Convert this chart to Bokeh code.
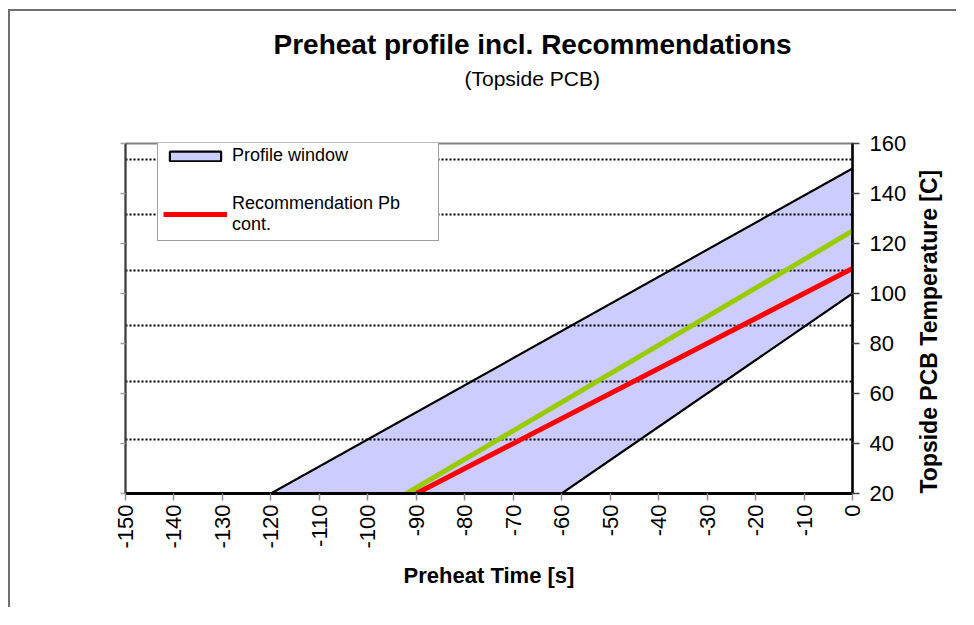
import math
from bokeh.plotting import figure
from bokeh.models import (LinearAxis, FixedTicker, Legend, LegendItem, Title, Range1d)
from bokeh.embed import file_html
from bokeh.resources import INLINE

# ---- data ----
x_ticks = [-150, -140, -130, -120, -110, -100, -90, -80, -70, -60, -50, -40, -30, -20, -10, 0]
x_tick_labels = ["-150", "-140", "-130", "-120", "-110", "-100", "-90", "-80", "-70", "-60",
                 "-50", "-40", "-30", "-20", "-10", "0"]
y_ticks = [20, 40, 60, 80, 100, 120, 140, 160]
grid_levels = [41.6, 64.8, 87.2, 109.2, 131.6, 153.6]

window_x = [-120, 0, 0, -60]
window_y = [20, 150, 100, 20]

pb_x = [-90, 0]
pb_y = [20, 110]

green_x = [-92, 0]
green_y = [20, 125]

title_text = "Preheat profile incl. Recommendations"
subtitle_text = "(Topside PCB)"
x_label = "Preheat Time [s]"
y_label = "Topside PCB Temperature [C]"

FONT = "Liberation Sans"

p = figure(width=948, height=598, output_backend="svg", toolbar_location=None,
           x_range=Range1d(-150, 0), y_range=Range1d(20, 160),
           y_axis_location="right", title=None,
           min_border_left=115, min_border_right=105, min_border_top=132, min_border_bottom=116)
p.styles = {"margin-left": "8px", "margin-top": "9px",
            "border-top": "2px solid #707070", "border-left": "2px solid #707070"}

p.background_fill_color = "white"
p.border_fill_color = "white"
p.outline_line_color = "#808080"
p.outline_line_width = 2

p.xgrid.visible = False
p.ygrid.visible = False

win = p.patch(window_x, window_y, fill_color="#ccccff", line_color="black", line_width=2.2)
p.hspan(y=grid_levels, line_color="black", line_width=2, line_dash="2 2")
green = p.line(green_x, green_y, line_color="#99cc00", line_width=5)
pb = p.line(pb_x, pb_y, line_color="#ff0000", line_width=5)

# x axis
xa = p.xaxis[0]
xa.ticker = FixedTicker(ticks=x_ticks)
xa.major_label_overrides = {t: s for t, s in zip(x_ticks, x_tick_labels)}
xa.major_label_orientation = math.pi / 2
xa.major_label_text_font = FONT
xa.major_label_text_font_size = "22px"
xa.major_label_text_color = "black"
xa.major_label_standoff = 4
xa.axis_line_color = "black"
xa.axis_line_width = 3
xa.major_tick_line_color = "#909090"
xa.major_tick_line_width = 1.5
xa.major_tick_out = 7
xa.major_tick_in = 0
xa.minor_tick_line_color = None
xa.axis_label = x_label
xa.axis_label_text_font = FONT
xa.axis_label_text_font_size = "22px"
xa.axis_label_text_font_style = "bold"
xa.axis_label_text_color = "black"
xa.axis_label_standoff = 11

# right y axis
ya = p.yaxis[0]
ya.ticker = FixedTicker(ticks=y_ticks)
ya.major_label_text_font = FONT
ya.major_label_text_font_size = "22px"
ya.major_label_text_color = "black"
ya.major_label_standoff = 10
ya.axis_line_color = "black"
ya.axis_line_width = 2.5
ya.major_tick_line_color = "#404040"
ya.major_tick_line_width = 1.5
ya.major_tick_out = 7
ya.major_tick_in = 1
ya.minor_tick_line_color = None
ya.axis_label = y_label
ya.axis_label_text_font = FONT
ya.axis_label_text_font_size = "23px"
ya.axis_label_text_font_style = "bold"
ya.axis_label_text_color = "black"
ya.axis_label_standoff = 20
props = ya.properties()
if "axis_label_orientation" in props:
    ya.axis_label_orientation = math.pi / 2
if "axis_label_align" in props:
    ya.axis_label_align = "start"

# left axis: ticks only, no labels
la = LinearAxis(ticker=FixedTicker(ticks=[], minor_ticks=y_ticks))
la.axis_line_color = "#404040"
la.axis_line_width = 2
la.major_tick_line_color = None
la.minor_tick_line_color = "#a0a0a0"
la.minor_tick_line_width = 1.5
la.minor_tick_out = 5
la.minor_tick_in = 0
p.add_layout(la, "left")

# legend
legend = Legend(items=[
    LegendItem(label="Profile window", renderers=[win]),
    LegendItem(label="Recommendation Pb\ncont.", renderers=[pb]),
], location=(32, 252))
legend.label_text_font = FONT
legend.label_text_font_size = "18px"
legend.label_text_line_height = 1.45
legend.label_text_color = "black"
legend.glyph_width = 64
legend.glyph_height = 12
legend.label_standoff = 5
legend.label_width = 201
legend.spacing = 27
legend.padding = 5
legend.margin = 0
legend.border_line_color = "#404040"
legend.border_line_width = 1
legend.background_fill_color = "white"
legend.background_fill_alpha = 1
p.add_layout(legend, "center")

# titles (first added sits closest to the frame)
p.add_layout(Title(text=subtitle_text, text_font=FONT, text_font_size="21px",
                   text_font_style="normal", text_color="black",
                   align="left", offset=339, standoff=107), "above")
p.add_layout(Title(text=title_text, text_font=FONT, text_font_size="28px",
                   text_font_style="bold", text_color="black",
                   align="left", offset=148, standoff=-96), "above")

open("out.html", "w").write(file_html(p, INLINE))
